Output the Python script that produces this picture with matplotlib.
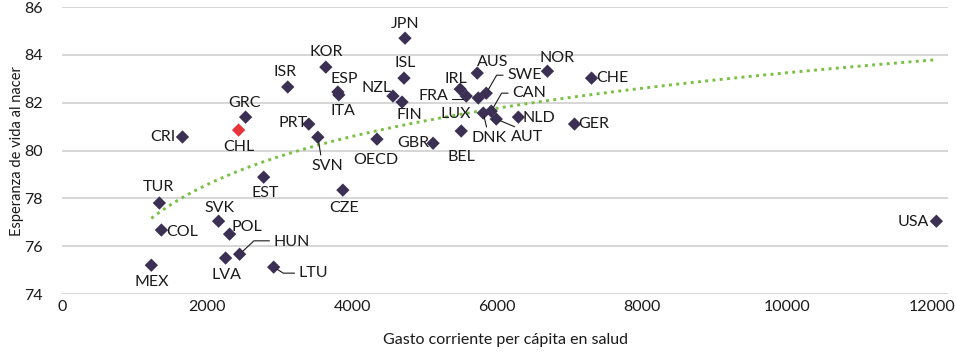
import numpy as np
import matplotlib
matplotlib.use("Agg")
import matplotlib.pyplot as plt

plt.rcParams['font.family'] = ['Lato', 'DejaVu Sans']

# gasto corriente per capita en salud vs esperanza de vida al nacer
paises = ['JPN', 'KOR', 'ISR', 'ISL', 'ESP', 'ITA', 'NZL', 'FIN', 'GRC', 'CHL',
          'CRI', 'PRT', 'SVN', 'OECD', 'GBR', 'BEL', 'EST', 'CZE', 'TUR', 'COL',
          'SVK', 'POL', 'HUN', 'LVA', 'LTU', 'MEX', 'USA', 'AUS', 'NOR', 'CHE',
          'IRL', 'FRA', 'LUX', 'SWE', 'CAN', 'DNK', 'AUT', 'NLD', 'GER']
gasto = [4728, 3636, 3111, 4714, 3802, 3815, 4562, 4687, 2530, 2433,
         1659, 3401, 3526, 4341, 5115, 5503, 2779, 3871, 1341, 1369,
         2157, 2309, 2447, 2254, 2917, 1230, 12055, 5724, 6692, 7300,
         5489, 5572, 5738, 5848, 5917, 5807, 5986, 6291, 7065]
esperanza = [84.70, 83.49, 82.66, 83.03, 82.45, 82.33, 82.28, 82.03, 81.40, 80.86,
             80.57, 81.11, 80.56, 80.48, 80.31, 80.82, 78.89, 78.35, 77.81, 76.68,
             77.05, 76.51, 75.67, 75.51, 75.13, 75.21, 77.05, 83.24, 83.32, 83.03,
             82.57, 82.28, 82.20, 82.40, 81.65, 81.57, 81.32, 81.40, 81.11]

# label offsets in pixels from the marker
etiquetas = {
    'JPN': (0, 14), 'KOR': (0, 15), 'ISR': (-3, 15), 'ISL': (1, 15),
    'ESP': (6, 13), 'ITA': (4, -16), 'NZL': (-16, 8), 'FIN': (7, -13),
    'GRC': (-1, 14), 'CHL': (0, -17), 'CRI': (-20, 0), 'PRT': (-16, 1),
    'OECD': (-1, -21), 'GBR': (-20, 0), 'BEL': (0, -26), 'EST': (2, -16),
    'CZE': (1, -18), 'TUR': (-1, 16), 'COL': (21, -2), 'SVK': (1, 13),
    'POL': (17, 7), 'LVA': (1, -17), 'MEX': (0, -17), 'USA': (-23, -1),
    'AUS': (15, 11), 'NOR': (10, 13), 'CHE': (21, 0), 'IRL': (-4, 10),
    'LUX': (-23, -16), 'NLD': (21, -1), 'GER': (19, 0),
}
# labels with leader lines: (dx, dy, ha, va, relpos, connectionstyle)
guias = {
    'SWE': (21, 18, 'left', 'center', (0, 0.5), 'angle,angleA=180,angleB=60,rad=0'),
    'CAN': (21, 18, 'left', 'center', (0, 0.5), 'angle,angleA=180,angleB=60,rad=0'),
    'FRA': (-18, 0, 'right', 'center', (1, 0.3), 'angle,angleA=0,angleB=240,rad=0'),
    'HUN': (34, 12, 'left', 'center', (0, 0.6), 'angle,angleA=180,angleB=43,rad=0'),
    'LTU': (25, -6, 'left', 'center', (0, 0.5), 'angle,angleA=180,angleB=-32,rad=0'),
    'SVN': (10, -22, 'center', 'top', (0.3, 1), 'arc3'),
    'DNK': (6, -18, 'center', 'top', (0.45, 1), 'arc3'),
    'AUT': (15, -11, 'left', 'top', (0.35, 1), 'arc3'),
}

color_punto = '#3b3054'
color_chile = '#e8333a'
color_tend = '#7ac143'
color_texto = '#1a1a1a'
fs = 11.5

fig = plt.figure(figsize=(9.56, 3.54), dpi=100)
ax = fig.add_axes([0.065, 0.169, 0.927, 0.811])

x = np.array(gasto, dtype=float)
y = np.array(esperanza)

# logarithmic trendline fitted on the points
b, a = np.polyfit(np.log(x), y, 1)
xs = np.linspace(x.min(), x.max(), 300)
ax.plot(xs, a + b * np.log(xs), color=color_tend, lw=2.1,
        linestyle=(0, (1, 1.5)), dash_capstyle='butt', zorder=2)

colores = [color_chile if p == 'CHL' else color_punto for p in paises]
ax.scatter(x, y, marker='D', s=46, c=colores, zorder=3, linewidths=0)

for p, gx, ey in zip(paises, gasto, esperanza):
    if p in etiquetas:
        dx, dy = etiquetas[p]
        ax.annotate(p, (gx, ey), xytext=(dx, dy), textcoords='offset pixels',
                    ha='center', va='center', fontsize=fs, color=color_texto,
                    zorder=4)
    else:
        dx, dy, ha, va, rp, cs = guias[p]
        ax.annotate(p, (gx, ey), xytext=(dx, dy), textcoords='offset pixels',
                    ha=ha, va=va, fontsize=fs, color=color_texto, zorder=4,
                    arrowprops=dict(arrowstyle='-', color='#1a1a1a', lw=0.8,
                                    connectionstyle=cs, relpos=rp,
                                    shrinkA=1, shrinkB=3))

ax.set_xlim(0, 12220)
ax.set_ylim(74, 86)
ax.set_xticks(np.arange(0, 12001, 2000))
ax.set_yticks(np.arange(74, 87, 2))
ax.grid(axis='y', color='#cccccc', lw=1.1)
ax.set_axisbelow(True)
for s in ax.spines.values():
    s.set_visible(False)
ax.tick_params(length=0, labelsize=fs, labelcolor=color_texto)
ax.tick_params(axis='x', pad=4)
ax.tick_params(axis='y', pad=14)
ax.set_xlabel('Gasto corriente per cápita en salud', fontsize=fs,
              color=color_texto, labelpad=14)
fig.text(17 / 956, 1 - 151 / 354, 'Esperanza de vida al nacer', rotation=90,
         ha='center', va='center', fontsize=10.5, color=color_texto)

fig.savefig('out.png', dpi=100)
